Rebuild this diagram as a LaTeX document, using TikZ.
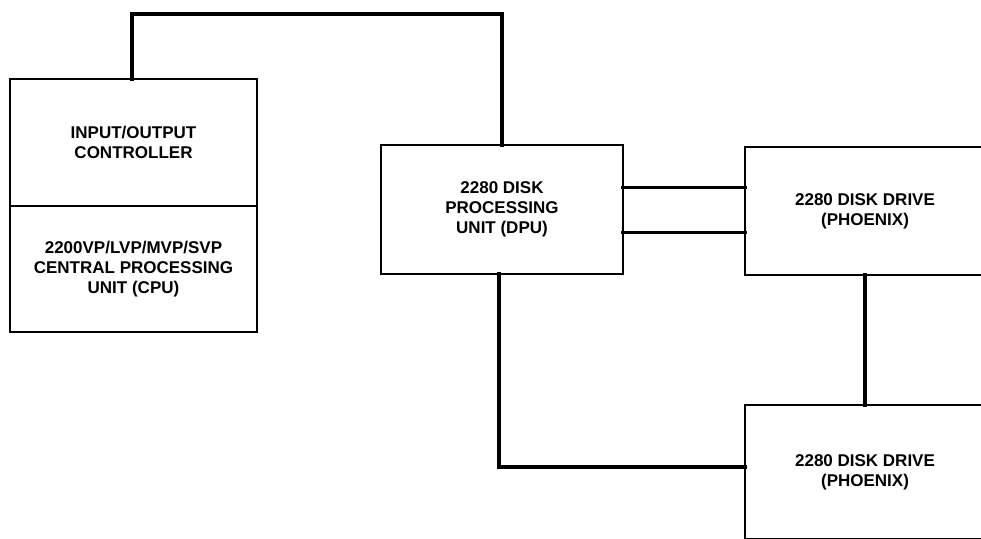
\documentclass[tikz,border=0pt]{standalone}
\usepackage{fontspec}
\setmainfont{Liberation Sans}
\usetikzlibrary{positioning}

\begin{document}
\begin{tikzpicture}[
  x=1pt, y=-1pt,
  every node/.style={font=\fontsize{17}{20}\selectfont\bfseries},
  block/.style={rectangle, draw, line width=2.4pt, inner sep=0pt, outer sep=0pt, align=center, anchor=north west},
  wire/.style={line width=3.4pt, line cap=rect}
]
\useasboundingbox (0,0) rectangle (981,538);
\clip (0,0) rectangle (981,538);

% Host system
\node[block, minimum width=247pt, minimum height=127pt] (ioc) at (10,79) {INPUT/OUTPUT\\CONTROLLER};
\node[block, minimum width=247pt, minimum height=126pt, anchor=north, below=0pt of ioc] (cpu)
  {2200VP/LVP/MVP/SVP\\CENTRAL PROCESSING\\UNIT (CPU)};

% Disk processing unit
\node[block, minimum width=242pt, minimum height=129pt] (dpu) at (381,145) {2280 DISK\\PROCESSING\\UNIT (DPU)};

% Disk drives
\node[block, minimum width=240pt, minimum height=128pt] (drv1) at (745,147) {2280 DISK DRIVE\\(PHOENIX)};
\node[block, minimum width=240pt, minimum height=134pt] (drv2) at (745,405) {2280 DISK DRIVE\\(PHOENIX)};

\coordinate (bus) at (132,14);

% Connections
\draw[wire] (ioc.north -| bus) -- (bus) -| (dpu.north);
\draw[wire] ([yshift=22pt]dpu.east) -- ([yshift=22pt]dpu.east -| drv1.west);
\draw[wire] ([yshift=-23pt]dpu.east) -- ([yshift=-23pt]dpu.east -| drv1.west);
\draw[wire] ([xshift=-3pt]dpu.south) |- ([yshift=5pt]drv2.west);
\draw[wire] (drv1.south) -- (drv2.north);

\end{tikzpicture}
\end{document}
